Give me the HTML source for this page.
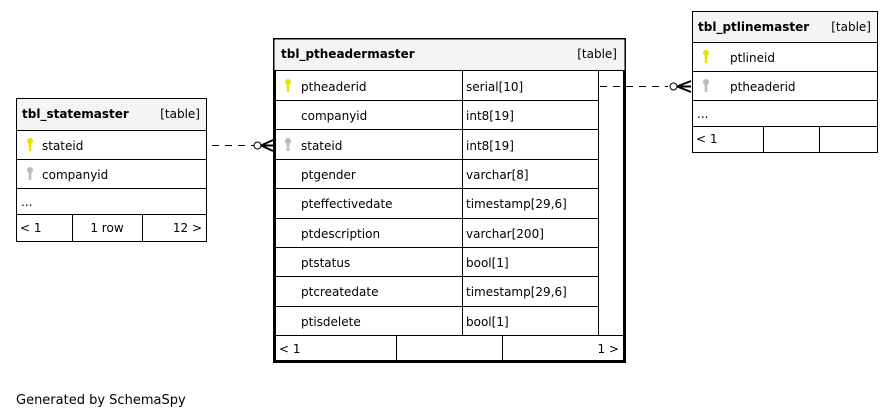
<!DOCTYPE html>
<html><head><style>body{margin:0;background:#fff}svg{display:block}text{font-family:"DejaVu Sans","Liberation Sans",sans-serif;font-size:12px;fill:#000}.b{font-weight:bold}</style></head><body>
<svg width="894" height="420" viewBox="0 0 894 420">
<defs>
<g id="ky"><circle cx="0" cy="0" r="3"/><rect x="-1.3" y="0" width="2.6" height="10"/></g>
</defs>
<!-- statemaster -->
<g stroke="#000" fill="none">
<rect x="16.5" y="98.5" width="190" height="143" fill="#fff"/>
<rect x="16.5" y="98.5" width="190" height="32" fill="#f4f4f4"/>
<line x1="16" y1="159.5" x2="206" y2="159.5"/>
<line x1="16" y1="188.5" x2="206" y2="188.5"/>
<line x1="16" y1="214.5" x2="206" y2="214.5"/>
<line x1="72.5" y1="214" x2="72.5" y2="241"/>
<line x1="142.5" y1="214" x2="142.5" y2="241"/>
</g>
<text x="22" y="118" class="b">tbl_statemaster</text><text x="200" y="118" text-anchor="end">[table]</text>
<use href="#ky" x="30" y="141" fill="#e6e600"/><text x="42" y="150">stateid</text>
<use href="#ky" x="30" y="170" fill="#bbb"/><text x="42" y="179">companyid</text>
<text x="21" y="206">...</text>
<text x="20" y="232">&lt; 1</text><text x="107" y="232" text-anchor="middle">1 row</text><text x="202" y="232" text-anchor="end">12 &gt;</text>

<!-- ptheadermaster -->
<g stroke="#000" fill="none">
<rect x="274.5" y="39.5" width="350" height="322" fill="#fff" stroke-width="3"/>
<rect x="274.5" y="39.5" width="350" height="31" fill="#f4f4f4" stroke="none"/>
<line x1="273" y1="70.5" x2="625" y2="70.5"/>
<g>
<line x1="273" y1="100.5" x2="598" y2="100.5"/>
<line x1="273" y1="129.5" x2="598" y2="129.5"/>
<line x1="273" y1="159.5" x2="598" y2="159.5"/>
<line x1="273" y1="188.5" x2="598" y2="188.5"/>
<line x1="273" y1="218.5" x2="598" y2="218.5"/>
<line x1="273" y1="247.5" x2="598" y2="247.5"/>
<line x1="273" y1="276.5" x2="598" y2="276.5"/>
<line x1="273" y1="306.5" x2="598" y2="306.5"/>
<line x1="273" y1="335.5" x2="625" y2="335.5"/>
<line x1="462.5" y1="70" x2="462.5" y2="335"/>
<line x1="598.5" y1="70" x2="598.5" y2="335"/>
<line x1="396.5" y1="335" x2="396.5" y2="361"/>
<line x1="502.5" y1="335" x2="502.5" y2="361"/>
</g>
</g>
<text x="281" y="58" class="b">tbl_ptheadermaster</text><text x="617" y="58" text-anchor="end">[table]</text>
<use href="#ky" x="288" y="82" fill="#e6e600"/>
<use href="#ky" x="288" y="141" fill="#bbb"/>
<g>
<text x="301" y="91">ptheaderid</text><text x="466" y="91">serial[10]</text>
<text x="301" y="120">companyid</text><text x="466" y="120">int8[19]</text>
<text x="301" y="150">stateid</text><text x="466" y="150">int8[19]</text>
<text x="301" y="179">ptgender</text><text x="466" y="179">varchar[8]</text>
<text x="301" y="208">pteffectivedate</text><text x="466" y="208">timestamp[29,6]</text>
<text x="301" y="238">ptdescription</text><text x="466" y="238">varchar[200]</text>
<text x="301" y="267">ptstatus</text><text x="466" y="267">bool[1]</text>
<text x="301" y="296">ptcreatedate</text><text x="466" y="296">timestamp[29,6]</text>
<text x="301" y="326">ptisdelete</text><text x="466" y="326">bool[1]</text>
</g>
<text x="279" y="353">&lt; 1</text><text x="619" y="353" text-anchor="end">1 &gt;</text>

<!-- ptlinemaster -->
<g stroke="#000" fill="none">
<rect x="692.5" y="11.5" width="185" height="141" fill="#fff"/>
<rect x="692.5" y="11.5" width="185" height="31" fill="#f4f4f4"/>
<line x1="692" y1="71.5" x2="877" y2="71.5"/>
<line x1="692" y1="100.5" x2="877" y2="100.5"/>
<line x1="692" y1="126.5" x2="877" y2="126.5"/>
<line x1="763.5" y1="126" x2="763.5" y2="152"/>
<line x1="819.5" y1="126" x2="819.5" y2="152"/>
</g>
<text x="698" y="31" class="b">tbl_ptlinemaster</text><text x="871" y="31" text-anchor="end">[table]</text>
<use href="#ky" x="706" y="53" fill="#e6e600"/><text x="730" y="62">ptlineid</text>
<use href="#ky" x="706" y="82" fill="#bbb"/><text x="730" y="91">ptheaderid</text>
<text x="697" y="118">...</text>
<text x="696" y="143">&lt; 1</text>

<!-- connectors -->
<g stroke="#000" fill="none">
<line x1="212" y1="145.5" x2="254" y2="145.5" stroke-dasharray="7,6"/>
<circle cx="257.5" cy="145.5" r="3.5" fill="#fff"/>
<path d="M261 145.5 L273 140 M261 145.5 L273 151 M261 145.5 L273 145.5" stroke-width="2"/>
<line x1="600" y1="86.5" x2="668" y2="86.5" stroke-dasharray="7,6"/>
<circle cx="673.5" cy="86.5" r="3.5" fill="#fff"/>
<path d="M677 86.5 L691 81 M677 86.5 L691 92 M677 86.5 L691 86.5" stroke-width="2"/>
</g>
<text x="16" y="404" style="font-size:13px">Generated by SchemaSpy</text>
</svg>
</body></html>
